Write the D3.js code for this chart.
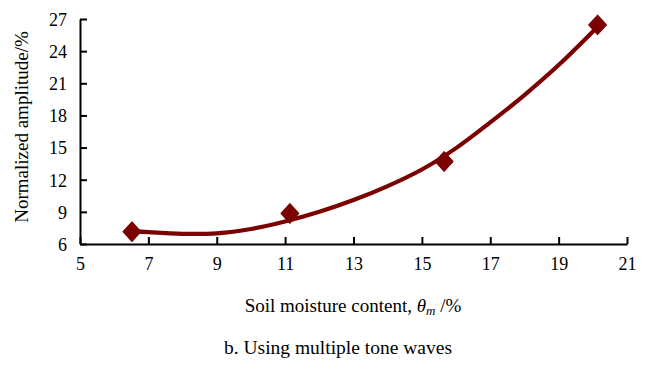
<!DOCTYPE html>
<html><head><meta charset="utf-8">
<script src="https://cdn.jsdelivr.net/npm/d3@7"></script>
<style>body{margin:0;background:#fff}svg{display:block}svg text{font-family:'Liberation Serif','Times New Roman','DejaVu Serif',serif !important;fill:#000}</style>
</head><body><svg id="c" width="651" height="374"></svg>
<script>
const xTicks = [5,7,9,11,13,15,17,19,21];
const yTicks = [6,9,12,15,18,21,24,27];
const pointX = [6.52, 11.14, 15.65, 20.14];
const pointY = [7.15, 8.85, 13.7, 26.45];
const trendX = [6.55,7,8,9,10,11,12,13,14,15,16,17,18,19,20.15];
const trendY = [7.2,7.1,6.95,7.0,7.4,8.1,9.0,10.1,11.4,12.95,14.95,17.35,19.9,22.7,26.3];

const svg = d3.select("#c");
const x = d3.scaleLinear().domain([5,21]).range([80,627]);
const y = d3.scaleLinear().domain([6,27]).range([244,19]);
const col = "#7b0000";

const xa = svg.append("g").attr("transform","translate(0,244)")
  .call(d3.axisBottom(x).tickValues(xTicks).tickSize(-7).tickPadding(13).tickSizeOuter(0));
const ya = svg.append("g").attr("transform","translate(80,0)")
  .call(d3.axisLeft(y).tickValues(yTicks).tickSize(-7).tickPadding(13).tickSizeOuter(0));
[xa,ya].forEach(a=>{
  a.attr("font-family",null).attr("font-size",null);
  a.selectAll("path,line").attr("stroke","#000").attr("stroke-width",2);
  a.selectAll("text").attr("font-size",18).attr("fill","#000");
});
ya.selectAll(".tick text").attr("dy","0.35em");

const line = d3.line().x((d,i)=>x(d)).y((d,i)=>y(trendY[i])).curve(d3.curveCatmullRom);
svg.append("path").attr("d", line(trendX)).attr("fill","none").attr("stroke",col).attr("stroke-width",4.2);

svg.selectAll(".pt").data(pointX).enter().append("path")
  .attr("d", d3.symbol(d3.symbolSquare, 160)())
  .attr("transform",(d,i)=>`translate(${x(d)},${y(pointY[i])}) scale(1,1.1) rotate(45)`)
  .attr("fill",col).attr("stroke",col).attr("stroke-width",1).attr("stroke-linejoin","round");

svg.append("text").attr("transform","translate(28,127) rotate(-90)").attr("text-anchor","middle")
  .attr("font-size",19).text("Normalized amplitude/%");
const xl = svg.append("text").attr("x",353).attr("y",312).attr("text-anchor","middle").attr("font-size",19);
xl.append("tspan").text("Soil moisture content, ");
xl.append("tspan").attr("font-style","italic").text("θ");
xl.append("tspan").attr("font-style","italic").attr("font-size",13).attr("dy",3).text("m");
xl.append("tspan").attr("dy",-3).text(" /%");
svg.append("text").attr("x",338).attr("y",354).attr("text-anchor","middle").attr("font-size",19.5)
  .text("b. Using multiple tone waves");
</script></body></html>
